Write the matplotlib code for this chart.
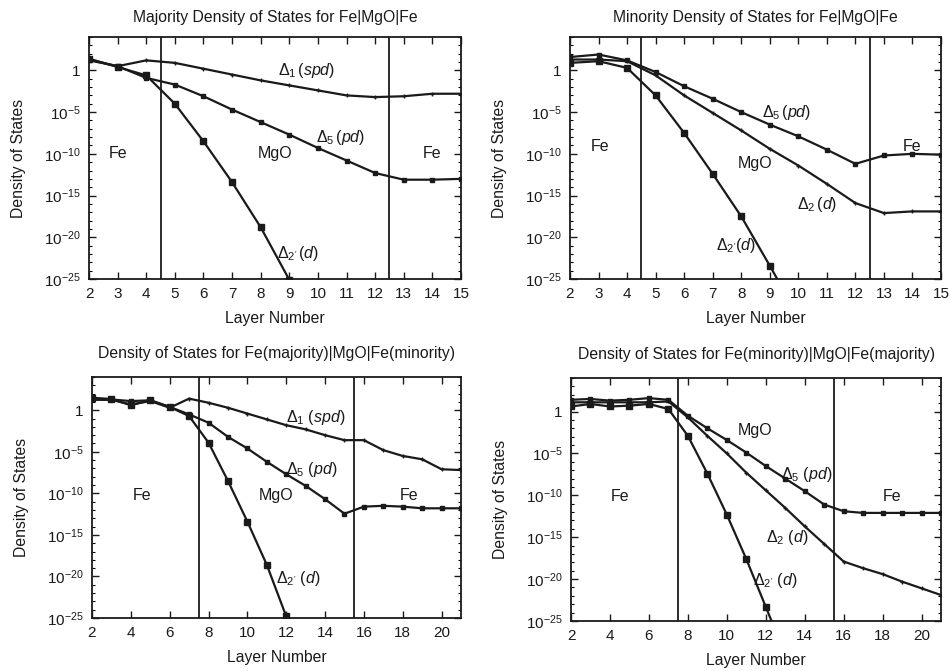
import numpy as np
import matplotlib
matplotlib.use("Agg")
import matplotlib.pyplot as plt
from matplotlib.ticker import FixedLocator, FuncFormatter

plt.rcParams['font.family'] = ['Liberation Sans', 'DejaVu Sans']
plt.rcParams['mathtext.fontset'] = 'custom'
plt.rcParams['mathtext.rm'] = 'Liberation Sans'
plt.rcParams['mathtext.it'] = 'Liberation Sans:italic'
plt.rcParams['mathtext.bf'] = 'Liberation Sans:bold'

# ---------------- data (log10 of density of states) ----------------
layers_a = list(range(2, 16))          # panels 1 & 2
layers_b = list(range(2, 22))          # panels 3 & 4

# Panel 1: Majority Fe|MgO|Fe
p1_d1 = [1.3, 0.5, 1.2, 0.9, 0.2, -0.5, -1.2, -1.8, -2.4, -3.0, -3.2, -3.1, -2.8, -2.8]
p1_d5 = [1.2, 0.5, -0.9, -1.7, -3.1, -4.7, -6.2, -7.7, -9.3, -10.8, -12.3, -13.1, -13.1, -13.0]
p1_d2p = [1.4, 0.4, -0.6, -4.0, -8.5, -13.4, -18.8, -25.1, -31.0]

# Panel 2: Minority Fe|MgO|Fe
p2_d5 = [1.6, 1.9, 1.2, -0.2, -1.9, -3.4, -5.0, -6.5, -7.9, -9.5, -11.2, -10.2, -10.0, -10.1]
p2_d2 = [1.3, 1.3, 1.1, -0.6, -3.0, -5.1, -7.2, -9.4, -11.4, -13.6, -15.9, -17.1, -16.9, -16.9]
p2_d2p = [0.9, 1.1, 0.3, -3.0, -7.5, -12.4, -17.5, -23.4, -29.5]

# Panel 3: Fe(majority)|MgO|Fe(minority)
p3_d1 = [1.25, 1.25, 0.7, 1.1, 0.3, 1.4, 0.9, 0.3, -0.4, -1.1, -1.8, -2.3, -3.0, -3.6,
         -3.6, -4.8, -5.5, -5.9, -7.1, -7.2]
p3_d5 = [1.4, 1.3, 1.1, 1.2, 0.4, -0.5, -1.5, -3.2, -4.6, -6.2, -7.7, -9.1, -10.7, -12.45,
         -11.6, -11.5, -11.6, -11.8, -11.8, -11.8]
p3_d2p = [1.5, 1.35, 0.6, 1.2, 0.4, -0.7, -3.9, -8.5, -13.4, -18.6, -24.8, -31.0]

# Panel 4: Fe(minority)|MgO|Fe(majority)
p4_d5 = [1.4, 1.5, 1.3, 1.4, 1.6, 1.4, -0.5, -2.0, -3.4, -4.9, -6.5, -8.0, -9.5, -11.1,
         -11.9, -12.1, -12.1, -12.1, -12.1, -12.1]
p4_d2 = [1.1, 1.1, 1.1, 1.1, 1.1, 1.2, -0.7, -2.9, -5.0, -7.3, -9.4, -11.5, -13.7, -15.8,
         -17.9, -18.7, -19.4, -20.3, -21.1, -21.9]
p4_d2p = [0.6, 0.9, 0.6, 0.7, 0.9, 0.3, -2.9, -7.4, -12.3, -17.6, -23.3, -29.0]

titles = ["Majority Density of States for Fe|MgO|Fe",
          "Minority Density of States for Fe|MgO|Fe",
          "Density of States for Fe(majority)|MgO|Fe(minority)",
          "Density of States for Fe(minority)|MgO|Fe(majority)"]

ytick_exps = [0, -5, -10, -15, -20, -25]

# ---------------- figure ----------------
fig = plt.figure(figsize=(9.5, 6.71), dpi=100)
boxes = [
    [89/950, 1-279/671, (461-89)/950, (279-37)/671],
    [570/950, 1-279/671, (941-570)/950, (279-37)/671],
    [92/950, 1-618/671, (461-92)/950, (618-377)/671],
    [571/950, 1-621/671, (941-571)/950, (621-378)/671],
]
LW = 1.6
INK = '#1a1a1a'
TXT = 11.3


def ylab(v, pos):
    e = int(round(np.log10(v)))
    if e == 0:
        return '1'
    return r'10$^{%d}$' % e


def setup(ax, title, xmax, xticks, vlines, tpad):
    ax.set_yscale('log')
    ax.set_ylim(1e-25, 1e4)
    ax.set_xlim(2, xmax)
    ax.set_xticks(xticks)
    ax.yaxis.set_major_locator(FixedLocator([10.0**e for e in ytick_exps]))
    ax.yaxis.set_minor_locator(FixedLocator([10.0**e for e in range(-25, 5)]))
    ax.yaxis.set_major_formatter(FuncFormatter(ylab))
    ax.yaxis.set_minor_formatter(FuncFormatter(lambda v, p: ''))
    ax.tick_params(axis='both', which='major', direction='in', length=5, width=1.0,
                   top=True, right=True, labelsize=11, colors=INK, pad=6)
    ax.tick_params(axis='y', which='minor', direction='in', length=2.5, width=0.8,
                   left=True, right=True)
    for s in ax.spines.values():
        s.set_linewidth(1.3)
        s.set_color(INK)
    ax.set_title(title, fontsize=TXT, color=INK, pad=tpad)
    ax.set_xlabel('Layer Number', fontsize=TXT, color=INK, labelpad=7)
    ax.set_ylabel('Density of States', fontsize=TXT, color=INK, labelpad=13)
    for v in vlines:
        ax.axvline(v, color=INK, lw=1.3)


def curve(ax, x, logy, ms, marker='s'):
    y = [10.0**v for v in logy]
    ax.plot(x[:len(y)], y, color=INK, lw=LW, marker=marker, ms=ms, mfc=INK, mec=INK,
            mew=1.0, clip_on=True)


def lbl(ax, x, e, s, fs=11.5):
    ax.text(x, 10.0**e, s, fontsize=fs, color=INK, ha='center', va='center')


# Panel 1
ax = fig.add_axes(boxes[0])
setup(ax, titles[0], 15, range(2, 16), [4.5, 12.5], 11)
curve(ax, layers_a, p1_d1, 2.5, '+')
curve(ax, layers_a, p1_d5, 3.5)
curve(ax, layers_a, p1_d2p, 4.5)
lbl(ax, 3.0, -10, 'Fe')
lbl(ax, 8.5, -10, 'MgO')
lbl(ax, 14.0, -10, 'Fe')
lbl(ax, 9.6, 0, r'$\Delta_1\,(\mathit{spd})$')
lbl(ax, 10.8, -8, r'$\Delta_5\,(\mathit{pd})$')
lbl(ax, 9.3, -22, r"$\Delta_{2'}\,(\mathit{d})$")

# Panel 2
ax = fig.add_axes(boxes[1])
setup(ax, titles[1], 15, range(2, 16), [4.5, 12.5], 11)
curve(ax, layers_a, p2_d5, 3.5)
curve(ax, layers_a, p2_d2, 2.5, '+')
curve(ax, layers_a, p2_d2p, 4.5)
lbl(ax, 3.05, -9.1, 'Fe')
lbl(ax, 8.5, -11.1, 'MgO')
lbl(ax, 14.0, -9.1, 'Fe')
lbl(ax, 9.6, -5.1, r'$\Delta_5\,(\mathit{pd})$')
lbl(ax, 10.65, -16.1, r'$\Delta_2\,(\mathit{d})$')
lbl(ax, 7.8, -21, r"$\Delta_{2'}(\mathit{d})$")

# Panel 3
ax = fig.add_axes(boxes[2])
setup(ax, titles[2], 21, range(2, 22, 2), [7.5, 15.5], 14)
curve(ax, layers_b, p3_d1, 2.5, '+')
curve(ax, layers_b, p3_d5, 3.5)
curve(ax, layers_b, p3_d2p, 4.5)
lbl(ax, 4.6, -10.2, 'Fe')
lbl(ax, 11.5, -10.2, 'MgO')
lbl(ax, 18.3, -10.2, 'Fe')
lbl(ax, 13.5, -0.9, r'$\Delta_1\ (\mathit{spd})$')
lbl(ax, 13.3, -7.1, r'$\Delta_5\ (\mathit{pd})$')
lbl(ax, 12.6, -20.2, r"$\Delta_{2'}\ (\mathit{d})$")

# Panel 4
ax = fig.add_axes(boxes[3])
setup(ax, titles[3], 21, range(2, 22, 2), [7.5, 15.5], 14)
curve(ax, layers_b, p4_d5, 3.5)
curve(ax, layers_b, p4_d2, 2.5, '+')
curve(ax, layers_b, p4_d2p, 4.5)
lbl(ax, 4.5, -10.1, 'Fe')
lbl(ax, 11.45, -2.3, 'MgO')
lbl(ax, 18.5, -10.1, 'Fe')
lbl(ax, 14.1, -7.5, r'$\Delta_5\ (\mathit{pd})$')
lbl(ax, 13.1, -15.0, r'$\Delta_2\ (\mathit{d})$')
lbl(ax, 12.5, -20.2, r"$\Delta_{2'}\ (\mathit{d})$")

fig.savefig('out.png', dpi=100, facecolor='white')
